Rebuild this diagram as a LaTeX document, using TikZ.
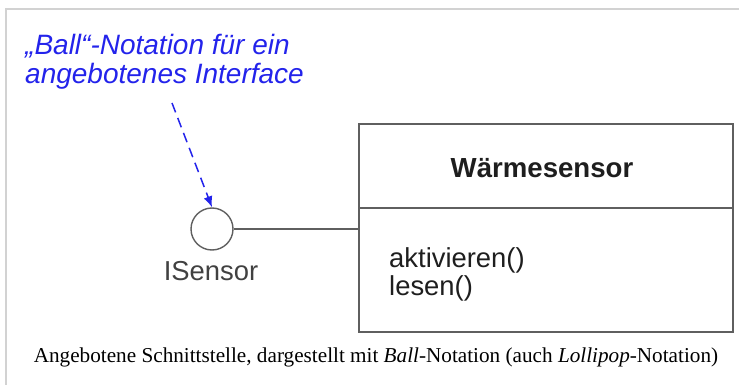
\documentclass[tikz,border=0pt]{standalone}
\usepackage{fontspec}
\setmainfont{Liberation Serif}
\setsansfont{Liberation Sans}
\usetikzlibrary{arrows.meta}
\definecolor{notecol}{RGB}{35,35,235}
\definecolor{linecol}{RGB}{95,95,95}
\definecolor{framecol}{RGB}{210,210,210}
\definecolor{txtcol}{RGB}{30,30,30}
\definecolor{labcol}{RGB}{65,65,65}
\tikzset{
  uml/.style={draw=linecol, line width=1.8pt, inner sep=0pt},
  ballnode/.style={circle, draw=linecol, line width=1.4pt, minimum size=42pt, inner sep=0pt},
  difont/.style={font=\sffamily\fontsize{27.4}{29}\selectfont, text=txtcol, inner sep=0pt},
  notefont/.style={font=\sffamily\itshape\fontsize{28}{29}\selectfont, text=notecol, inner sep=0pt, align=left},
  notearrow/.style={draw=notecol, line width=1.5pt, dash pattern=on 10pt off 6pt, -{Latex[length=11pt,width=9pt]}},
  capfont/.style={font=\rmfamily\fontsize{21.2}{23}\selectfont, text=black, inner sep=0pt}
}
\begin{document}
\begin{tikzpicture}[x=1pt,y=-1pt]
\useasboundingbox (0,0) rectangle (739,385);
% frame
\draw[framecol, line width=1.5pt] (6,385) -- (6,9) -- (739,9);
% class box
\node[uml, minimum width=374pt, minimum height=84pt] (head) at (546,166) {};
\node[uml, minimum width=374pt, minimum height=124pt] (body) at (546,270) {};
\node[difont, font=\sffamily\bfseries\fontsize{27.6}{29}\selectfont, anchor=base] (title) at (542,178) {Wärmesensor};
\node[difont, anchor=base west] (op1) at (389,267) {aktivieren()};
\node[difont, anchor=base west] (op2) at (389,295) {lesen()};
% ball
\node[ballnode] (ball) at (212,229) {};
\node[difont, anchor=base, text=labcol] (isensor) at (211,280) {ISensor};
\draw[linecol, line width=1.6pt] (ball.east) -- (ball.east -| body.west);
% note
\node[notefont, anchor=base west] (note) at (25,84) {„Ball“-Notation für ein\\angebotenes Interface};
\coordinate (arrstart) at (172,103);
\draw[notearrow] (arrstart) -- (ball.north);
% caption
\node[capfont, anchor=base] (cap) at (376,362) {Angebotene Schnittstelle, dargestellt mit \textit{Ball}-Notation (auch \textit{Lollipop}-Notation)};
\end{tikzpicture}
\end{document}
